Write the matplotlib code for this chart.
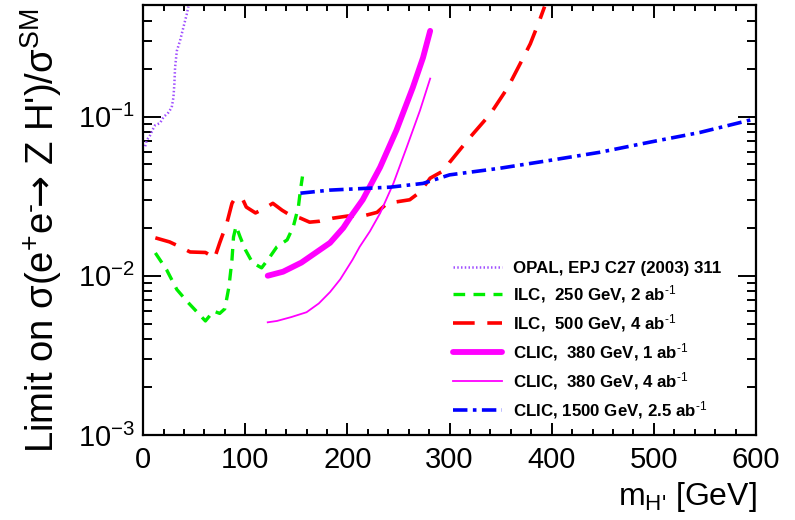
import matplotlib
matplotlib.use('Agg')
import matplotlib.pyplot as plt
from matplotlib.ticker import MultipleLocator, LogLocator, NullFormatter

plt.rcParams['font.family'] = ['Liberation Sans', 'DejaVu Sans']
plt.rcParams['mathtext.fontset'] = 'custom'
plt.rcParams['mathtext.rm'] = 'Liberation Sans'
plt.rcParams['mathtext.it'] = 'Liberation Sans:italic'
plt.rcParams['mathtext.bf'] = 'Liberation Sans:bold'
plt.rcParams['mathtext.sf'] = 'DejaVu Sans'

# OPAL
opal_x = [2, 3.6, 6.8, 9.5, 11.7, 16.6, 19.9, 24.8, 28, 29.7, 30.6, 31.3, 33, 36.2, 39.4, 42.7, 44.3]
opal_y = [0.065, 0.071, 0.076, 0.083, 0.088, 0.091, 0.099, 0.106, 0.114, 0.132, 0.160, 0.203, 0.258, 0.300, 0.362, 0.438, 0.49]

# ILC 250 GeV
ilc250_x = [12, 23, 33, 43, 53, 61, 69, 75, 80, 84, 87, 88.5, 91, 95, 100, 107, 116, 124, 131, 141, 147, 152, 154, 156]
ilc250_y = [0.0139, 0.0109, 0.0082, 0.0069, 0.0059, 0.0052, 0.0060, 0.0058, 0.0062, 0.0085, 0.0126, 0.0175, 0.0205,
            0.0175, 0.0146, 0.0121, 0.0112, 0.0131, 0.0152, 0.0168, 0.0203, 0.027, 0.0345, 0.042]

# ILC 500 GeV
ilc500_x = [12, 26, 36, 46, 61, 66, 68, 71, 75, 82, 87, 90, 97, 101, 110, 119, 127, 136, 144, 154, 163, 173, 186,
            200, 215, 229, 239, 261, 271, 281, 295, 300, 320, 340, 357, 369, 379, 388, 393]
ilc500_y = [0.0173, 0.0163, 0.0152, 0.0141, 0.0140, 0.0134, 0.0128, 0.0135, 0.0161, 0.0214, 0.0285, 0.0307, 0.0307,
            0.0270, 0.0248, 0.0265, 0.0285, 0.0258, 0.0240, 0.0230, 0.0217, 0.0220, 0.0230, 0.0237, 0.0237, 0.025,
            0.0285, 0.030, 0.0335, 0.041, 0.046, 0.0515, 0.074, 0.104, 0.152, 0.214, 0.286, 0.40, 0.49]

# CLIC 380 GeV, 1 ab-1
clic380a_x = [122, 137, 155, 170, 183, 196, 203, 215, 232, 248, 264, 274, 281]
clic380a_y = [0.0100, 0.0106, 0.0121, 0.0141, 0.0161, 0.0200, 0.0234, 0.030, 0.048, 0.082, 0.152, 0.234, 0.345]

# CLIC 380 GeV, 4 ab-1
clic380b_x = [122, 131, 145, 160, 172, 183, 193, 205, 212, 222, 232, 245, 258, 271, 281]
clic380b_y = [0.0051, 0.0052, 0.0055, 0.0059, 0.0067, 0.0079, 0.0095, 0.0126, 0.0152, 0.0190, 0.0247, 0.038,
              0.064, 0.109, 0.173]

# CLIC 1500 GeV
clic1500_x = [154, 183, 242, 274, 300, 349, 398, 447, 496, 545, 600]
clic1500_y = [0.033, 0.0345, 0.036, 0.038, 0.043, 0.0473, 0.053, 0.0596, 0.069, 0.0794, 0.097]

fig = plt.figure(figsize=(7.95, 5.2), dpi=100)
ax = fig.add_axes([0.18, 0.1635, 0.771, 0.8265])

ax.plot(opal_x, opal_y, color='#a050ff', lw=1.8, linestyle=(0, (0.6, 0.9)),
        label='OPAL, EPJ C27 (2003) 311')
ax.plot(ilc250_x, ilc250_y, color='#00ee00', lw=2.4, linestyle=(0, (3.5, 2.5)),
        label='ILC,  250 GeV, 2 ab$^{\\text{-1}}$')
ax.plot(ilc500_x, ilc500_y, color='#ff0000', lw=2.6, linestyle=(0, (6, 3.5)),
        label='ILC,  500 GeV, 4 ab$^{\\text{-1}}$')
ax.plot(clic380a_x, clic380a_y, color='#ff00ff', lw=4.2, solid_capstyle='round',
        label='CLIC,  380 GeV, 1 ab$^{\\text{-1}}$')
ax.plot(clic380b_x, clic380b_y, color='#ff00ff', lw=1.3,
        label='CLIC,  380 GeV, 4 ab$^{\\text{-1}}$')
ax.plot(clic1500_x, clic1500_y, color='#0000ff', lw=2.6, linestyle=(0, (4, 1.5, 1, 1.5)),
        label='CLIC, 1500 GeV, 2.5 ab$^{\\text{-1}}$')

ax.set_yscale('log')
ax.set_xlim(0, 600)
ax.set_ylim(1e-3, 0.5)

ax.xaxis.set_major_locator(MultipleLocator(100))
ax.xaxis.set_minor_locator(MultipleLocator(20))
ax.yaxis.set_major_locator(LogLocator(base=10, numticks=10))
ax.yaxis.set_minor_locator(LogLocator(base=10, subs=range(2, 10), numticks=20))
ax.yaxis.set_minor_formatter(NullFormatter())

ax.tick_params(which='both', direction='in', top=True, right=True, width=1.4, labelsize=21)
ax.tick_params(axis='x', which='major', length=9, pad=8)
ax.tick_params(axis='x', which='minor', length=4.5)
ax.tick_params(axis='y', which='major', length=13, pad=6)
ax.tick_params(axis='y', which='minor', length=6.5)
for s in ax.spines.values():
    s.set_linewidth(1.6)

fig.text(0.052, 1 - 231 / 520, "Limit on σ(e$^{+}$e$^{\\text{-}}\\!\\mathsf{→}$ Z H')/σ$^{\\text{SM}}$",
         rotation=90, ha='center', va='center', fontsize=27.5)
fig.text(757 / 795, 1 - 497 / 520, "m$_{\\text{H'}}$ [GeV]", ha='right', va='center', fontsize=23)

leg = ax.legend(loc='upper left', bbox_to_anchor=(0.505, 0.405), frameon=False,
                prop={'weight': 'bold', 'size': 12.2}, handlelength=2.9, handletextpad=0.65,
                labelspacing=0.42, borderpad=0, borderaxespad=0)

fig.savefig('out.png', dpi=100)
